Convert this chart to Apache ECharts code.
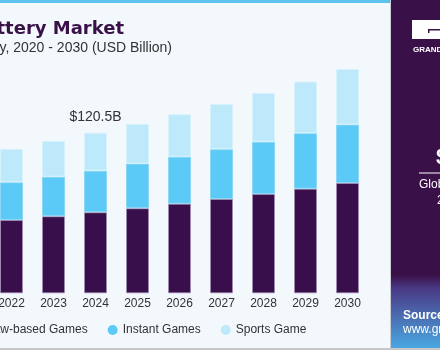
<!DOCTYPE html>
<html>
<head>
<meta charset="utf-8">
<script src="https://cdn.jsdelivr.net/npm/echarts@6/dist/echarts.min.js"></script>
<style>
html,body{margin:0;padding:0;background:#f3f8fc;}
#c{width:440px;height:350px;}
</style>
</head>
<body>
<div id="c"></div>
<script>
const years = ['2020','2021','2022','2023','2024','2025','2026','2027','2028','2029','2030'];
const drawBased = [50.0, 52.4, 55.0, 57.8, 60.8, 63.8, 67.2, 70.8, 74.5, 78.5, 82.8];
const instant = [25.6, 26.9, 28.3, 29.7, 31.2, 33.5, 35.3, 37.3, 39.2, 41.6, 43.8];
const sports = [22.6, 23.8, 25.0, 26.8, 28.5, 29.8, 31.8, 34.0, 36.5, 38.7, 41.6];
const seriesNames = ['Draw-based Games', 'Instant Games', 'Sports Game'];
const highlightYear = '2024';
const highlightLabel = '$120.5B';

const FONT = "'Liberation Sans', Arial, sans-serif";
const chart = echarts.init(document.getElementById('c'), null, {renderer: 'canvas'});

const sportsData = sports.map((v, i) => years[i] === highlightYear ? {
  value: v,
  label: {show: true, position: 'top', distance: 9, formatter: highlightLabel, color: '#333', fontSize: 14, fontFamily: FONT}
} : v);

const option = {
  backgroundColor: '#f3f8fc',
  animation: false,
  grid: {left: -93.5, right: 71.5, top: 26.7, bottom: 56.7, containLabel: false, outerBoundsMode: 'none'},
  xAxis: {
    type: 'category', data: years,
    axisLine: {show: false}, axisTick: {show: false},
    axisLabel: {color: '#333', fontSize: 12, fontFamily: FONT, margin: 4, interval: 0}
  },
  yAxis: {type: 'value', min: 0, max: 200, show: false, splitLine: {show: false}},
  legend: {
    data: seriesNames, left: -39, top: 319, icon: 'circle',
    itemWidth: 10, itemHeight: 10, itemGap: 20,
    textStyle: {color: '#333', fontSize: 12, fontFamily: FONT},
    itemStyle: {borderWidth: 0}
  },
  series: [
    {name: seriesNames[0], type: 'bar', stack: 'a', barWidth: 23, data: drawBased,
     itemStyle: {color: '#380f4a', borderColor: 'rgba(160,140,180,0.7)', borderWidth: 1}},
    {name: seriesNames[1], type: 'bar', stack: 'a', barWidth: 23, data: instant,
     itemStyle: {color: '#5bcaf6', borderColor: 'rgba(140,215,245,1)', borderWidth: 1}},
    {name: seriesNames[2], type: 'bar', stack: 'a', barWidth: 23, data: sportsData,
     itemStyle: {color: '#bde9fa', borderColor: 'rgba(215,242,252,1)', borderWidth: 1}}
  ],
  graphic: [
    {type: 'rect', shape: {x: 0, y: 0, width: 390, height: 3}, style: {fill: '#5bc3ec'}, silent: true},
    {type: 'text', x: 124, y: 29, style: {text: 'Lottery Market', textAlign: 'right', textVerticalAlign: 'middle',
      font: "bold 18px 'DejaVu Sans', sans-serif", fill: '#3a1049'}},
    {type: 'text', x: 172, y: 48, style: {text: 'Lottery Market Size, by Category, 2020 - 2030 (USD Billion)', textAlign: 'right', textVerticalAlign: 'middle',
      font: "14px 'Liberation Sans', Arial, sans-serif", fill: '#333'}},
    {type: 'rect', shape: {x: 390, y: 0, width: 1, height: 348}, style: {fill: '#c9ccd2'}, silent: true},
    {type: 'rect', shape: {x: 391, y: 0, width: 49, height: 348}, silent: true,
      style: {fill: new echarts.graphic.LinearGradient(0, 0, 0, 1, [
        {offset: 0, color: '#3a1049'}, {offset: 0.79, color: '#3a1049'},
        {offset: 0.83, color: '#4a3a86'}, {offset: 1, color: '#4aa8e2'}])}},
    {type: 'rect', shape: {x: 412, y: 20, width: 28, height: 19}, style: {fill: '#ffffff'}, silent: true},
    {type: 'rect', shape: {x: 428, y: 29, width: 12, height: 1.5}, style: {fill: '#3a1049'}, silent: true},
    {type: 'rect', shape: {x: 428, y: 29, width: 1.5, height: 4}, style: {fill: '#3a1049'}, silent: true},
    {type: 'text', x: 413, y: 50, style: {text: 'GRAND VIEW RESEARCH', textVerticalAlign: 'middle',
      font: "bold 8px 'Liberation Sans', Arial, sans-serif", fill: '#ffffff'}},
    {type: 'text', x: 436, y: 158, style: {text: '$5', textVerticalAlign: 'middle',
      font: "bold 22px 'Liberation Sans', Arial, sans-serif", fill: '#ffffff'}},
    {type: 'rect', shape: {x: 419, y: 172.5, width: 21, height: 1}, style: {fill: '#ffffff'}, silent: true},
    {type: 'text', x: 419, y: 185, style: {text: 'Global Market Size,', textVerticalAlign: 'middle',
      font: "12px 'Liberation Sans', Arial, sans-serif", fill: '#ffffff'}},
    {type: 'text', x: 437, y: 201, style: {text: '2024', textVerticalAlign: 'middle',
      font: "12px 'Liberation Sans', Arial, sans-serif", fill: '#ffffff'}},
    {type: 'text', x: 403, y: 316, style: {text: 'Source:', textVerticalAlign: 'middle',
      font: "bold 12px 'Liberation Sans', Arial, sans-serif", fill: '#ffffff'}},
    {type: 'text', x: 403, y: 330, style: {text: 'www.grandviewresearch.com', textVerticalAlign: 'middle',
      font: "12px 'Liberation Sans', Arial, sans-serif", fill: '#ffffff'}},
    {type: 'rect', shape: {x: 0, y: 348, width: 440, height: 2}, style: {fill: '#c8c8c8'}, silent: true}
  ]
};
chart.setOption(option);
</script>
</body>
</html>
